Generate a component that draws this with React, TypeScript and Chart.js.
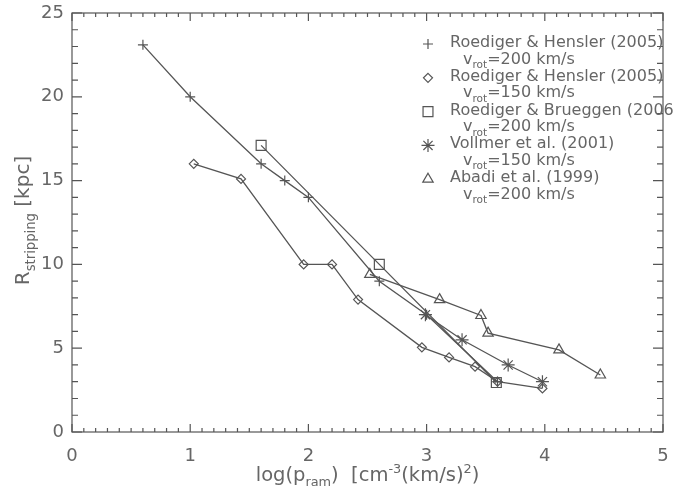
import React, { useEffect, useRef } from 'react';
import { Chart, registerables } from 'chart.js';
Chart.register(...registerables);

// ---- data ----
const plusX = [0.6, 1.0, 1.6, 1.8, 2.0, 2.6, 3.0, 3.6];
const plusY = [23.1, 20, 16, 15, 14, 9, 7, 3];
const diamondX = [1.03, 1.43, 1.96, 2.2, 2.42, 2.96, 3.19, 3.41, 3.6, 3.98];
const diamondY = [16, 15.1, 10, 10, 7.9, 5.05, 4.45, 3.9, 3.0, 2.6];
const squareX = [1.6, 2.6, 3.59];
const squareY = [17.1, 10, 2.95];
const starX = [2.99, 3.3, 3.69, 3.98];
const starY = [7, 5.5, 4.0, 3.0];
const triX = [2.52, 3.11, 3.46, 3.52, 4.12, 4.47];
const triY = [9.4, 7.9, 6.95, 5.9, 4.9, 3.4];

const legendTitles = [
  'Roediger & Hensler (2005)',
  'Roediger & Hensler (2005)',
  'Roediger & Brueggen (2006)',
  'Vollmer et al. (2001)',
  'Abadi et al. (1999)',
];
const legendSpeeds = ['200', '150', '200', '150', '200'];
const xTickValues = [0, 1, 2, 3, 4, 5];
const yTickValues = [0, 5, 10, 15, 20, 25];

const LINE = '#555';
const TEXT = '#666';
const FONT = '"DejaVu Sans", sans-serif';

type Part = { t: string; k: 'n' | 'sub' | 'sup' };
const SUBSCALE = 0.66;

function richWidth(ctx: CanvasRenderingContext2D, parts: Part[], size: number) {
  let w = 0;
  for (const p of parts) {
    const s = p.k === 'n' ? size : size * SUBSCALE;
    ctx.font = `${s}px ${FONT}`;
    w += ctx.measureText(p.t).width;
  }
  return w;
}

function drawRich(ctx: CanvasRenderingContext2D, parts: Part[], x: number, y: number, size: number) {
  let cx = x;
  ctx.textBaseline = 'alphabetic';
  ctx.textAlign = 'left';
  for (const p of parts) {
    const s = p.k === 'n' ? size : size * SUBSCALE;
    ctx.font = `${s}px ${FONT}`;
    const dy = p.k === 'sub' ? size * 0.28 : p.k === 'sup' ? -size * 0.42 : 0;
    ctx.fillText(p.t, cx, y + dy);
    cx += ctx.measureText(p.t).width;
  }
}

function drawMarker(ctx: CanvasRenderingContext2D, style: string, x: number, y: number, r: number) {
  ctx.beginPath();
  if (style === 'cross') {
    ctx.moveTo(x - r, y); ctx.lineTo(x + r, y);
    ctx.moveTo(x, y - r); ctx.lineTo(x, y + r);
  } else if (style === 'rectRot') {
    ctx.moveTo(x, y - r); ctx.lineTo(x + r, y); ctx.lineTo(x, y + r); ctx.lineTo(x - r, y); ctx.closePath();
  } else if (style === 'rect') {
    const h = r * Math.SQRT1_2;
    ctx.rect(x - h, y - h, 2 * h, 2 * h);
  } else if (style === 'star') {
    ctx.moveTo(x - r, y); ctx.lineTo(x + r, y);
    ctx.moveTo(x, y - r); ctx.lineTo(x, y + r);
    const d = r * Math.SQRT1_2;
    ctx.moveTo(x - d, y - d); ctx.lineTo(x + d, y + d);
    ctx.moveTo(x - d, y + d); ctx.lineTo(x + d, y - d);
  } else if (style === 'triangle') {
    ctx.moveTo(x, y - r); ctx.lineTo(x + r * 0.866, y + r * 0.5); ctx.lineTo(x - r * 0.866, y + r * 0.5); ctx.closePath();
  }
  ctx.stroke();
}

const markerStyles = ['cross', 'rectRot', 'rect', 'star', 'triangle'];
const markerRadii = [5, 4.5, 7, 6.5, 6];

const framePlugin = {
  id: 'idlFrame',
  afterDraw(chart: any) {
    const ctx: CanvasRenderingContext2D = chart.ctx;
    const a = chart.chartArea;
    const xs = chart.scales.x;
    const ys = chart.scales.y;
    ctx.save();
    ctx.strokeStyle = LINE;
    ctx.lineWidth = 1.2;
    ctx.strokeRect(a.left, a.top, a.right - a.left, a.bottom - a.top);
    ctx.beginPath();
    for (let i = 0; i <= 50; i++) {
      const v = i / 10;
      const px = xs.getPixelForValue(v);
      const len = i % 10 === 0 ? 8 : 4;
      ctx.moveTo(px, a.bottom); ctx.lineTo(px, a.bottom - len);
      ctx.moveTo(px, a.top); ctx.lineTo(px, a.top + len);
    }
    for (let i = 0; i <= 25; i++) {
      const py = ys.getPixelForValue(i);
      const len = i % 5 === 0 ? 10 : 6;
      ctx.moveTo(a.left, py); ctx.lineTo(a.left + len, py);
      ctx.moveTo(a.right, py); ctx.lineTo(a.right - len, py);
    }
    ctx.stroke();

    // legend
    ctx.fillStyle = TEXT;
    ctx.strokeStyle = LINE;
    ctx.lineWidth = 1.2;
    for (let i = 0; i < legendTitles.length; i++) {
      const y1 = 47 + i * 33.8;
      drawMarker(ctx, markerStyles[i], 428, y1 - 3, markerRadii[i]);
      drawRich(ctx, [{ t: legendTitles[i], k: 'n' }], 450, y1, 16);
      drawRich(ctx, [
        { t: 'v', k: 'n' },
        { t: 'rot', k: 'sub' },
        { t: '=' + legendSpeeds[i] + ' km/s', k: 'n' },
      ], 463, y1 + 16.5, 16);
    }

    // x title
    const xt: Part[] = [
      { t: 'log(p', k: 'n' }, { t: 'ram', k: 'sub' }, { t: ')  [cm', k: 'n' },
      { t: '-3', k: 'sup' }, { t: '(km/s)', k: 'n' }, { t: '2', k: 'sup' }, { t: ')', k: 'n' },
    ];
    const xw = richWidth(ctx, xt, 19.5);
    drawRich(ctx, xt, (a.left + a.right) / 2 - xw / 2, 481, 19.5);

    // y title
    const yt: Part[] = [{ t: 'R', k: 'n' }, { t: 'stripping', k: 'sub' }, { t: ' [kpc]', k: 'n' }];
    const yw = richWidth(ctx, yt, 20);
    ctx.translate(29, (a.top + a.bottom) / 2 - 2);
    ctx.rotate(-Math.PI / 2);
    drawRich(ctx, yt, -yw / 2, 0, 20);
    ctx.restore();
  },
};

function ds(xs: number[], ys: number[], style: string, r: number) {
  return {
    data: xs.map((x, i) => ({ x, y: ys[i] })),
    showLine: true,
    borderColor: LINE,
    borderWidth: 1.3,
    pointStyle: style,
    pointRadius: r,
    pointBorderColor: LINE,
    pointBorderWidth: 1.2,
    pointBackgroundColor: 'rgba(0,0,0,0)',
    fill: false,
  };
}

export default function App() {
  const ref = useRef<HTMLCanvasElement>(null);
  useEffect(() => {
    document.body.style.margin = '0';
    const chart = new Chart(ref.current!, {
      type: 'scatter',
      data: {
        datasets: [
          ds(plusX, plusY, 'cross', markerRadii[0]),
          ds(diamondX, diamondY, 'rectRot', markerRadii[1]),
          ds(squareX, squareY, 'rect', markerRadii[2]),
          ds(starX, starY, 'star', markerRadii[3]),
          ds(triX, triY, 'triangle', markerRadii[4]),
        ] as any,
      },
      options: {
        animation: false,
        responsive: false,
        devicePixelRatio: 1,
        layout: { padding: { top: 13, right: 10, left: 0, bottom: 0 } },
        plugins: { legend: { display: false }, tooltip: { enabled: false } },
        scales: {
          x: {
            type: 'linear', min: 0, max: 5,
            afterBuildTicks: (s: any) => { s.ticks = xTickValues.map((v) => ({ value: v })); },
            afterFit: (s: any) => { s.height = 57; s.paddingLeft = 0; s.paddingRight = 0; },
            ticks: { color: TEXT, font: { family: FONT, size: 18 }, padding: 14, maxRotation: 0 },
            grid: { display: false, drawTicks: false },
            border: { display: false },
          },
          y: {
            type: 'linear', min: 0, max: 25,
            afterBuildTicks: (s: any) => { s.ticks = yTickValues.map((v) => ({ value: v })); },
            afterFit: (s: any) => { s.width = 72; s.paddingTop = 0; s.paddingBottom = 0; },
            ticks: { color: TEXT, font: { family: FONT, size: 18 }, padding: 8 },
            grid: { display: false, drawTicks: false },
            border: { display: false },
          },
        },
      } as any,
      plugins: [framePlugin],
    });
    return () => chart.destroy();
  }, []);
  return (
    <div style={{ width: 673, height: 489 }}>
      <canvas ref={ref} width={673} height={489} />
    </div>
  );
}
